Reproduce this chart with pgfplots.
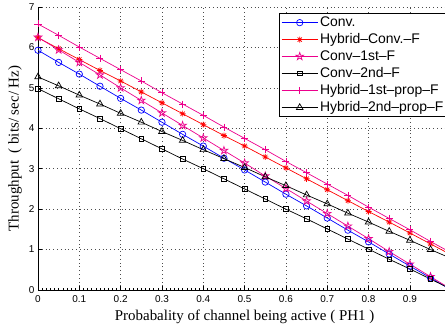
\documentclass[border=0pt]{standalone}
\usepackage{pgfplots}
\usepackage{pgfplotstable}
\pgfplotsset{compat=1.18}
\usepackage{fontspec}
\setmainfont{Liberation Serif}
\setsansfont{Liberation Sans}

\pgfdeclareplotmark{pentagram}{%
  \pgfpathmoveto{\pgfpointpolar{90}{\pgfplotmarksize}}%
  \pgfpathlineto{\pgfpointpolar{126}{0.382\pgfplotmarksize}}%
  \pgfpathlineto{\pgfpointpolar{162}{\pgfplotmarksize}}%
  \pgfpathlineto{\pgfpointpolar{198}{0.382\pgfplotmarksize}}%
  \pgfpathlineto{\pgfpointpolar{234}{\pgfplotmarksize}}%
  \pgfpathlineto{\pgfpointpolar{270}{0.382\pgfplotmarksize}}%
  \pgfpathlineto{\pgfpointpolar{306}{\pgfplotmarksize}}%
  \pgfpathlineto{\pgfpointpolar{342}{0.382\pgfplotmarksize}}%
  \pgfpathlineto{\pgfpointpolar{18}{\pgfplotmarksize}}%
  \pgfpathlineto{\pgfpointpolar{54}{0.382\pgfplotmarksize}}%
  \pgfpathclose
  \pgfusepathqstroke}
\pgfdeclareplotmark{asteriskeight}{%
  \pgfpathmoveto{\pgfpointpolar{0}{\pgfplotmarksize}}\pgfpathlineto{\pgfpointpolar{180}{\pgfplotmarksize}}%
  \pgfpathmoveto{\pgfpointpolar{45}{\pgfplotmarksize}}\pgfpathlineto{\pgfpointpolar{225}{\pgfplotmarksize}}%
  \pgfpathmoveto{\pgfpointpolar{90}{\pgfplotmarksize}}\pgfpathlineto{\pgfpointpolar{270}{\pgfplotmarksize}}%
  \pgfpathmoveto{\pgfpointpolar{135}{\pgfplotmarksize}}\pgfpathlineto{\pgfpointpolar{315}{\pgfplotmarksize}}%
  \pgfusepathqstroke}

\pgfplotstableread{
x     c     r     s     q     p     t
0.00  5.93  6.24  6.25  4.98  6.58  5.27
0.05  5.63  5.97  5.94  4.73  6.30  5.05
0.10  5.34  5.70  5.63  4.48  6.01  4.82
0.15  5.04  5.43  5.32  4.24  5.73  4.60
0.20  4.74  5.17  5.00  3.99  5.45  4.37
0.25  4.45  4.90  4.69  3.74  5.17  4.15
0.30  4.15  4.63  4.38  3.49  4.88  3.92
0.35  3.85  4.36  4.07  3.24  4.60  3.70
0.40  3.56  4.09  3.76  3.00  4.32  3.47
0.45  3.26  3.82  3.45  2.75  4.03  3.25
0.50  2.97  3.56  3.14  2.50  3.75  3.03
0.55  2.67  3.29  2.82  2.25  3.47  2.80
0.60  2.37  3.02  2.51  2.00  3.18  2.58
0.65  2.08  2.75  2.20  1.76  2.90  2.35
0.70  1.78  2.48  1.89  1.51  2.62  2.13
0.75  1.48  2.21  1.58  1.26  2.34  1.90
0.80  1.19  1.94  1.27  1.01  2.05  1.68
0.85  0.89  1.68  0.95  0.76  1.77  1.45
0.90  0.59  1.41  0.64  0.52  1.49  1.23
0.95  0.30  1.14  0.33  0.27  1.20  1.00
}\maindata
\pgfplotstableread{
x     c     r     s     q     p     t
0.95  0.30  1.14  0.33  0.27  1.20  1.00
1.00  0.00  0.87  0.02  0.02  0.92  0.78
}\taildata

\begin{document}
\begin{tikzpicture}
\useasboundingbox (-38bp,-39bp) rectangle (407bp,290bp);
\begin{axis}[
  scale only axis,
  width=407bp, height=283bp,
  xmin=0, xmax=0.985, ymin=0, ymax=7,
  axis x line*=bottom, axis y line*=left,
  axis line style={line width=0.8bp},
  xtick={0,0.1,0.2,0.3,0.4,0.5,0.6,0.7,0.8,0.9},
  ytick={0,1,2,3,4,5,6,7},
  minor x tick num=9,
  tick align=inside,
  major tick length=4bp, minor tick length=2bp,
  every tick/.style={black, line width=0.5bp},
  grid=major,
  major grid style={black!70, line width=0.5bp, dash pattern=on 0.8bp off 3bp},
  tick label style={font=\sffamily\fontsize{10}{12}\selectfont},
  /pgf/number format/assume math mode=true,
  xticklabel style={yshift=-2bp},
  xlabel={Probabality of channel being active ( PH1 )},
  ylabel={Throughput\ \ ( bits/ sec/ Hz)},
  label style={font=\fontsize{15}{18}\selectfont},
  xlabel style={at={(axis description cs:0.5076,0)}, anchor=base, yshift=-30bp},
  ylabel style={at={(axis description cs:-0.0565,0.5)}, anchor=center, rotate=0},
  legend style={at={(axis description cs:1.006,0.979)}, anchor=north east,
    draw=black, line width=1.2bp, fill=white,
    font=\sffamily\fontsize{14}{16}\selectfont,
    inner sep=1.5bp, row sep=1.5bp},
  legend cell align=left,
  legend image code/.code={\draw[mark repeat=2,mark phase=2, line width=0.7bp] plot coordinates {(0bp,0bp)(18bp,0bp)(36bp,0bp)};},
  every axis plot/.append style={line width=0.7bp},
]
\addplot[blue, mark=o, mark size=3.2bp] table[x=x,y=c]{\maindata};
\addlegendentry{Conv.}
\addplot[red, mark=asteriskeight, mark size=3bp] table[x=x,y=r]{\maindata};
\addlegendentry{Hybrid--Conv.--F}
\addplot[magenta, mark=pentagram, mark size=4bp] table[x=x,y=s]{\maindata};
\addlegendentry{Conv--1st--F}
\addplot[black, mark=square, mark size=2.3bp] table[x=x,y=q]{\maindata};
\addlegendentry{Conv--2nd--F}
\addplot[magenta, mark=+, mark size=3.5bp] table[x=x,y=p]{\maindata};
\addlegendentry{Hybrid--1st--prop--F}
\addplot[black, mark=triangle, mark size=3.8bp] table[x=x,y=t]{\maindata};
\addlegendentry{Hybrid--2nd--prop--F}
\addplot[blue, forget plot] table[x=x,y=c]{\taildata};
\addplot[red, forget plot] table[x=x,y=r]{\taildata};
\addplot[magenta, forget plot] table[x=x,y=s]{\taildata};
\addplot[black, forget plot] table[x=x,y=q]{\taildata};
\addplot[magenta, forget plot] table[x=x,y=p]{\taildata};
\addplot[black, forget plot] table[x=x,y=t]{\taildata};
\end{axis}
\end{tikzpicture}
\end{document}
